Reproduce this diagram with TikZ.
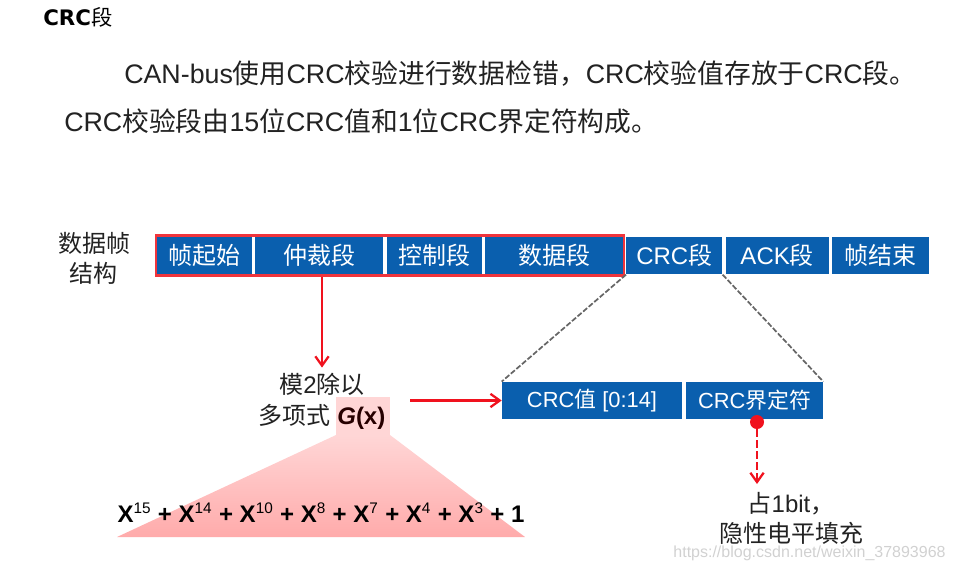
\documentclass[tikz,border=0pt]{standalone}
\usepackage{fontspec}
\setmainfont{Liberation Sans}
\newfontfamily\cjk{Noto Sans CJK SC}
\newfontfamily\titlefont{DejaVu Sans}
\usetikzlibrary{positioning,arrows.meta}
\definecolor{SegBlue}{HTML}{0A5FAE}
\definecolor{FrameRed}{HTML}{F0343C}
\definecolor{ArrowRed}{HTML}{F0121E}
\definecolor{TextGray}{HTML}{222222}
\newcommand{\zh}[1]{{\cjk #1}}
\newcommand{\fsize}[1]{\fontsize{#1}{22}\selectfont}
\newcommand{\xpow}[1]{X\textsuperscript{\normalfont\fontsize{11.5}{12}\selectfont #1}}

\begin{document}
\begin{tikzpicture}[x=0.75pt,y=-0.75pt]
      \tikzset{SegBox/.style = {fill=SegBlue, text=white, inner sep=0pt,
          minimum height=28pt, font=\fsize{18}}}
      \tikzset{SubBox/.style = {SegBox, font=\fsize{16.4}}}
      \tikzset{Plain/.style = {text=TextGray, inner sep=0pt, font=\fsize{18}, align=center}}
      \tikzset{Para/.style = {text=TextGray, inner sep=0pt, anchor=base west, font=\fsize{20.1}}}
      \tikzset{RedEdge/.style = {-{Straight Barb[length=7pt,width=10pt,line width=1.7pt]},
          draw=ArrowRed, line width=2pt}}
      \tikzset{ZoomEdge/.style = {draw=black!60, line width=1.3pt, dash pattern=on 4pt off 1.5pt}}

      \useasboundingbox (0,0) rectangle (954,572);

      \node[Para, text=black, font=\fsize{16}] (Title) at (43,25)
        {{\titlefont\bfseries CRC}\zh{段}};
      \node[Para] (LineA) at (124,83)
        {CAN-bus\zh{使用}CRC\zh{校验进行数据检错，}CRC\zh{校验值存放于}CRC\zh{段。}};
      \node[Para] (LineB) at (64,131)
        {CRC\zh{校验段由}15\zh{位}CRC\zh{值和}1\zh{位}CRC\zh{界定符构成。}};

      \node[Plain, font=\fsize{18}\cjk] (Label) at (94,258) {数据帧\\[0.5pt]结构};

      % frame fields
      \node[SegBox, minimum width=72pt] (Sof) at (204,255.7) {\zh{帧起始}};
      \node[SegBox, minimum width=96pt, right=2.1pt of Sof] (Arb) {\zh{仲裁段}};
      \node[SegBox, minimum width=71.25pt, right=2.1pt of Arb] (Ctl) {\zh{控制段}};
      \node[SegBox, minimum width=103.5pt, right=2.1pt of Ctl] (Data) {\zh{数据段}};
      \node[SegBox, minimum width=72pt, right=2.1pt of Data] (Crc) {CRC\zh{段}};
      \node[SegBox, minimum width=77.25pt, right=2.1pt of Crc] (Ack) {ACK\zh{段}};
      \node[SegBox, minimum width=72.75pt, right=2.1pt of Ack] (Eof) {\zh{帧结束}};
      \node[draw=FrameRed, line width=2.2pt, minimum width=351pt, minimum height=30.5pt,
        inner sep=0pt] (Frame) at (390,255.5) {};

      % crc field
      \node[SubBox, minimum width=135pt] (CrcVal) at (592,400.5) {CRC\zh{值} [0:14]};
      \node[SubBox, minimum width=102.75pt, right=2.6pt of CrcVal] (CrcDel) {CRC\zh{界定符}};
      \draw[ZoomEdge] (Crc.south west) -- (CrcVal.north west);
      \draw[ZoomEdge] (Crc.south east) -- (CrcDel.north east);

      % pink fan
      \coordinate (FanA) at (336,435);
      \coordinate (FanB) at (390,435);
      \coordinate (FanC) at (525,537);
      \coordinate (FanD) at (117,537);
      \fill[fill=red!16] (336,397) rectangle (FanB);
      \shade[top color=red!16, bottom color=red!33, shading angle=0]
        (FanA) -- (FanB) -- (FanC) -- (FanD) -- cycle;

      \node[Plain] (Poly) at (322,401.5)
        {\zh{模}2\zh{除以}\\[1.5pt]\zh{多项式} {\bfseries\color{black!85!red}\textit{G}(x)}};
      \node[inner sep=0pt, font=\fsize{18}\bfseries, text=black, anchor=base] (Gen) at (321,522)
        {\xpow{15} + \xpow{14} + \xpow{10} + \xpow{8} + \xpow{7} + \xpow{4} + \xpow{3} + 1};

      \draw[RedEdge, shorten >=4pt] (Frame.south -| Poly.north) -- (Poly.north);
      \coordinate (PolyOut) at (410,400.5);
      \draw[RedEdge] (PolyOut) -- (CrcVal.west);

      % delimiter note
      \node[circle, fill=ArrowRed, inner sep=0pt, minimum size=10.5pt] (Dot) at (757,422) {};
      \node[Plain] (Note) at (791,518.5) {\zh{占}1bit\zh{，}\\[0pt]\zh{隐性电平填充}};
      \coordinate (NoteIn) at (757,484);
      \draw[RedEdge, dash pattern=on 6pt off 2.2pt] (Dot) -- (NoteIn);

      \node[text=black!18, inner sep=0pt, font=\fsize{12}] (Mark) at (809.5,553)
        {https://blog.csdn.net/weixin\_37893968};
    \end{tikzpicture}
\end{document}
